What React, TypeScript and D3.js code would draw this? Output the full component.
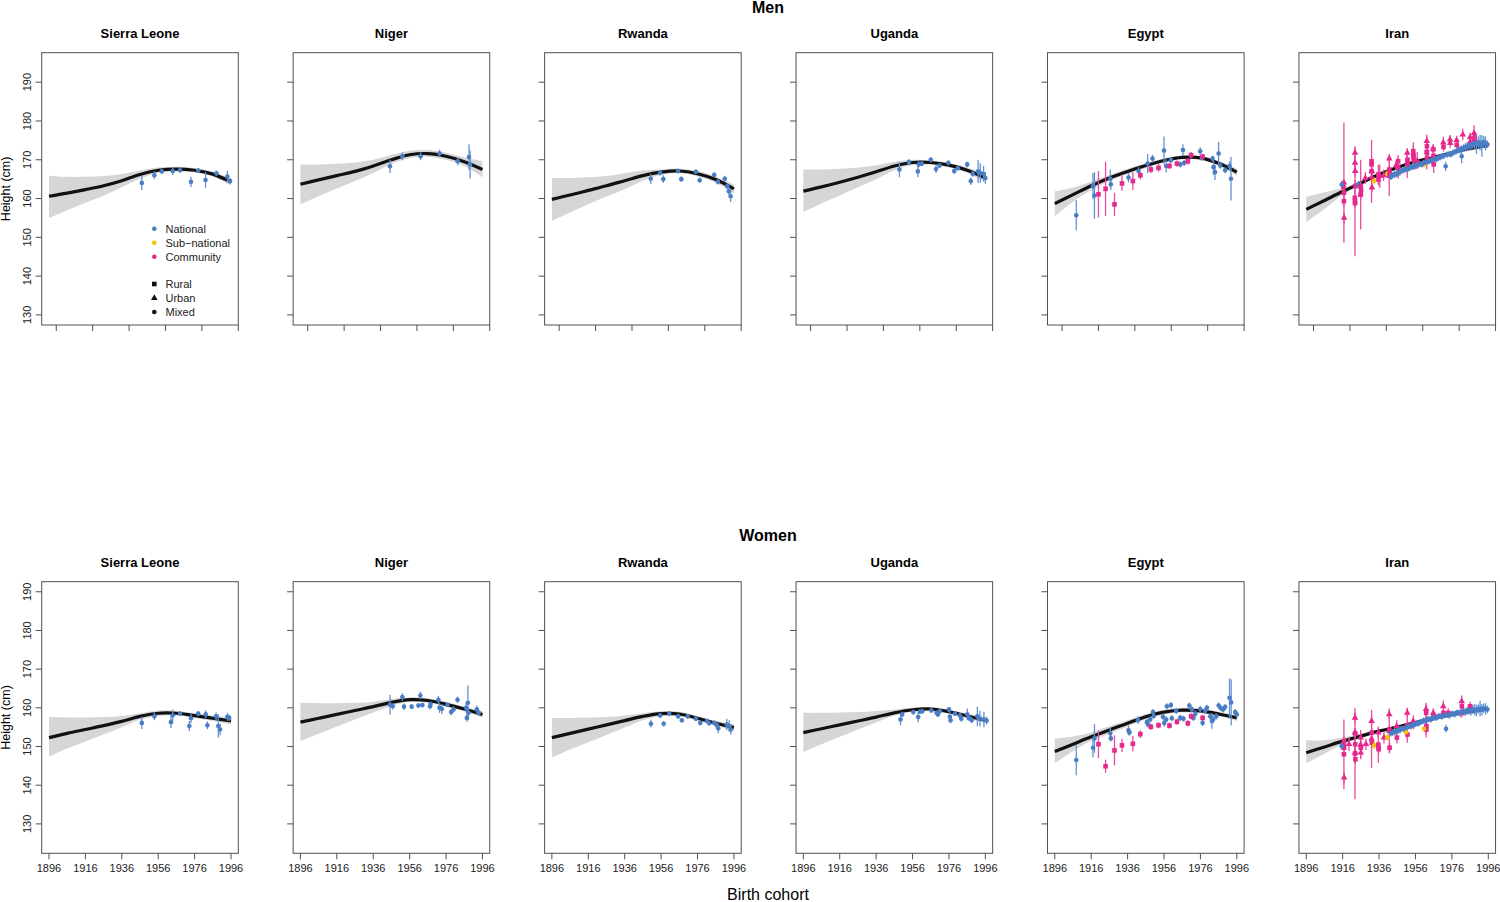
import React from "react";
import * as d3 from "d3";

type Pt = [number, number, number, string, string]; // year, height, half error, source N/S/C, type R/U/M

const countries = ["Sierra Leone", "Niger", "Rwanda", "Uganda", "Egypt", "Iran"];
const fitYears = [1896, 1906, 1916, 1926, 1936, 1946, 1956, 1966, 1976, 1986, 1996];
const yTicks = [130, 140, 150, 160, 170, 180, 190];
const xTicksTop = [1900, 1920, 1940, 1960, 1980, 2000];
const xTicksBottom = [1896, 1916, 1936, 1956, 1976, 1996];

// ---------- Men fits ----------
const slMenFit = [160.6, 161.4, 162.3, 163.3, 164.6, 166.2, 167.3, 167.6, 167.3, 166.3, 164.3];
const slMenLo = [155.0, 157.0, 158.9, 160.7, 162.9, 165.1, 166.6, 167.0, 166.7, 165.6, 163.4];
const slMenHi = [165.9, 165.6, 165.6, 165.8, 166.3, 167.2, 168.0, 168.2, 167.9, 167.0, 165.1];
const neMenFit = [163.7, 164.8, 165.9, 167.0, 168.4, 170.0, 171.3, 171.6, 170.9, 169.5, 167.5];
const neMenLo = [158.5, 160.6, 162.6, 164.5, 166.6, 168.9, 170.4, 170.8, 170.0, 168.4, 165.5];
const neMenHi = [168.8, 168.8, 169.0, 169.3, 170.0, 171.2, 172.3, 172.5, 171.8, 170.6, 169.7];
const rwMenFit = [159.8, 160.9, 162.1, 163.3, 164.6, 165.9, 166.8, 167.1, 166.4, 164.9, 162.5];
const rwMenLo = [154.2, 156.4, 158.5, 160.5, 162.4, 164.6, 166.1, 166.5, 165.7, 164.1, 161.3];
const rwMenHi = [165.3, 165.3, 165.5, 165.8, 166.5, 167.2, 167.5, 167.7, 167.1, 165.7, 163.7];
const ugMenFit = [161.9, 163.0, 164.2, 165.5, 166.9, 168.4, 169.3, 169.3, 168.6, 167.3, 165.3];
const ugMenLo = [156.5, 158.7, 160.8, 162.9, 165.0, 167.3, 168.6, 168.7, 168.0, 166.6, 164.3];
const ugMenHi = [167.5, 167.5, 167.7, 168.0, 168.6, 169.5, 170.0, 169.9, 169.2, 168.0, 166.3];
const egMenFit = [158.7, 161.0, 163.3, 165.3, 167.0, 168.5, 169.8, 170.6, 170.5, 169.1, 166.8];
const egMenLo = [155.5, 159.2, 162.2, 164.5, 166.3, 167.9, 169.3, 170.1, 170.0, 168.5, 165.9];
const egMenHi = [161.9, 162.8, 164.4, 166.1, 167.7, 169.1, 170.3, 171.1, 171.0, 169.7, 167.7];
const irMenFit = [157.2, 159.5, 161.8, 164.0, 166.2, 168.0, 169.5, 170.6, 171.8, 172.9, 173.7];
const irMenLo = [153.9, 157.3, 160.9, 163.4, 165.7, 167.6, 169.1, 170.2, 171.4, 172.5, 173.1];
const irMenHi = [160.4, 161.6, 162.7, 164.6, 166.7, 168.4, 169.9, 171.0, 172.2, 173.3, 174.3];

// ---------- Women fits ----------
const slWomenFit = [152.3, 153.4, 154.4, 155.4, 156.5, 157.8, 158.6, 158.6, 158.0, 157.3, 156.6];
const slWomenLo = [147.4, 149.5, 151.3, 153.1, 155.0, 156.9, 157.9, 158.0, 157.4, 156.6, 155.7];
const slWomenHi = [157.6, 157.5, 157.5, 157.6, 157.9, 158.6, 159.3, 159.2, 158.6, 158.0, 157.5];
const neWomenFit = [156.3, 157.3, 158.3, 159.3, 160.3, 161.4, 162.1, 161.9, 160.9, 159.7, 158.3];
const neWomenLo = [151.4, 153.3, 155.2, 157.0, 158.8, 160.5, 161.5, 161.3, 160.3, 159.1, 157.5];
const neWomenHi = [161.3, 161.2, 161.2, 161.3, 161.6, 162.3, 162.7, 162.5, 161.5, 160.3, 159.1];
const rwWomenFit = [152.3, 153.4, 154.5, 155.6, 156.7, 157.8, 158.5, 158.4, 157.3, 156.0, 154.9];
const rwWomenLo = [147.1, 149.2, 151.1, 153.0, 154.9, 156.8, 157.9, 157.8, 156.7, 155.4, 154.0];
const rwWomenHi = [157.4, 157.4, 157.5, 157.6, 158.0, 158.6, 159.1, 159.0, 157.9, 156.6, 155.8];
const ugWomenFit = [153.6, 154.6, 155.6, 156.6, 157.6, 158.7, 159.5, 159.7, 159.0, 157.9, 156.8];
const ugWomenLo = [148.6, 150.6, 152.5, 154.4, 156.2, 158.0, 159.0, 159.2, 158.5, 157.3, 156.0];
const ugWomenHi = [158.7, 158.7, 158.8, 158.9, 159.2, 159.6, 160.0, 160.2, 159.5, 158.5, 157.6];
const egWomenFit = [148.7, 150.6, 152.5, 154.3, 156.0, 157.7, 158.9, 159.4, 159.2, 158.4, 157.4];
const egWomenLo = [145.7, 148.8, 151.4, 153.3, 155.2, 157.0, 158.3, 158.8, 158.6, 157.8, 156.6];
const egWomenHi = [152.0, 152.6, 153.6, 155.3, 156.8, 158.4, 159.5, 160.0, 159.8, 159.0, 158.2];
const irWomenFit = [148.4, 149.9, 151.4, 152.7, 154.0, 155.0, 156.2, 157.3, 158.2, 159.0, 159.7];
const irWomenLo = [145.6, 148.1, 150.5, 152.1, 153.5, 154.6, 155.8, 156.9, 157.8, 158.6, 159.2];
const irWomenHi = [151.6, 151.6, 152.3, 153.3, 154.5, 155.4, 156.6, 157.7, 158.6, 159.4, 160.2];

// ---------- Men data ----------
const slMen: Pt[] = [
  [1947, 164.0, 1.8, "N", "M"], [1953.9, 166.0, 1.0, "N", "M"], [1958, 167.0, 0.6, "N", "M"],
  [1964, 167.1, 1.0, "N", "M"], [1968, 167.3, 0.6, "N", "M"], [1974, 164.3, 1.3, "N", "M"],
  [1978, 167.2, 0.6, "N", "M"], [1982, 164.8, 2.0, "N", "M"], [1988, 166.5, 0.7, "N", "M"],
  [1994, 165.7, 1.5, "N", "M"], [1995.5, 164.5, 0.8, "N", "M"],
];
const neMen: Pt[] = [
  [1945.2, 168.3, 1.7, "N", "M"], [1952, 170.9, 1.0, "N", "M"], [1962, 170.9, 1.0, "N", "M"],
  [1972.4, 171.6, 1.0, "N", "M"], [1982.4, 169.6, 1.0, "N", "M"], [1988.6, 170.7, 3.3, "N", "M"],
  [1989.2, 168.8, 3.6, "N", "M"],
];
const rwMen: Pt[] = [
  [1950.3, 165.1, 1.3, "N", "M"], [1955.4, 166.6, 0.6, "N", "M"], [1957.2, 165.0, 1.0, "N", "M"],
  [1965.3, 167.1, 0.6, "N", "M"], [1967.1, 165.0, 0.7, "N", "M"], [1975.1, 166.9, 0.6, "N", "M"],
  [1977.2, 164.7, 0.7, "N", "M"], [1985.2, 166.1, 0.6, "N", "M"], [1987.2, 164.3, 0.7, "N", "M"],
  [1991, 165.1, 0.8, "N", "M"], [1992.4, 163.2, 0.8, "N", "M"], [1993.2, 161.9, 1.0, "N", "M"],
  [1994.2, 160.6, 1.5, "N", "M"],
];
const ugMen: Pt[] = [
  [1948.8, 167.5, 2.0, "N", "M"], [1954, 169.4, 0.8, "N", "M"], [1958.9, 167.0, 1.5, "N", "M"],
  [1959.4, 168.8, 0.8, "N", "M"], [1961, 169.0, 0.6, "N", "M"], [1966, 170.0, 0.7, "N", "M"],
  [1968.9, 167.6, 1.0, "N", "M"], [1970.8, 168.5, 0.6, "N", "M"], [1975.7, 169.2, 0.6, "N", "M"],
  [1978.9, 167.1, 0.8, "N", "M"], [1980.9, 167.8, 0.6, "N", "M"], [1986, 168.8, 0.7, "N", "M"],
  [1988, 164.5, 1.0, "N", "M"], [1989.1, 166.4, 0.8, "N", "M"], [1992, 167.0, 3.0, "N", "M"],
  [1993.2, 166.6, 2.5, "N", "M"], [1995, 166.4, 2.0, "N", "M"], [1996, 165.3, 1.5, "N", "M"],
];
const egMen: Pt[] = [
  [1907.8, 155.7, 3.9, "N", "M"], [1917, 163.2, 3.4, "N", "M"], [1917.8, 160.8, 6.0, "N", "M"],
  [1926.5, 165.1, 2.4, "N", "M"], [1926.8, 163.7, 1.5, "N", "M"], [1936.5, 165.4, 1.2, "N", "M"],
  [1942, 167.1, 1.0, "N", "M"], [1947, 169.0, 2.5, "N", "M"], [1949.7, 170.3, 1.0, "N", "M"],
  [1956, 172.4, 3.6, "N", "M"], [1957.2, 168.4, 1.7, "N", "M"], [1959.8, 169.9, 0.8, "N", "M"],
  [1965, 168.8, 0.8, "N", "M"], [1966.4, 172.5, 1.5, "N", "M"], [1967.1, 169.2, 0.8, "N", "M"],
  [1975.9, 172.2, 1.0, "N", "M"], [1976.8, 170.5, 0.8, "N", "M"], [1982.7, 170.3, 0.8, "N", "M"],
  [1983.2, 168.1, 2.0, "N", "M"], [1984, 166.8, 2.0, "N", "M"], [1986, 171.6, 3.0, "N", "M"],
  [1986.9, 168.5, 0.8, "N", "M"], [1989.6, 167.3, 0.8, "N", "M"], [1992, 168.4, 1.2, "N", "M"],
  [1992.8, 165.1, 5.6, "N", "M"],
  [1920, 161.1, 6.0, "C", "R"], [1923.9, 162.5, 7.0, "C", "R"], [1928.8, 158.5, 3.0, "C", "R"],
  [1932.9, 163.9, 1.9, "C", "R"], [1938.9, 164.5, 2.3, "C", "R"], [1943, 166.0, 1.0, "C", "R"],
  [1948.8, 167.5, 1.0, "C", "R"], [1953, 167.9, 1.0, "C", "R"], [1959, 168.4, 0.8, "C", "R"],
  [1963.1, 169.0, 0.8, "C", "R"], [1969.1, 169.6, 0.8, "C", "R"], [1970.9, 171.2, 0.8, "C", "R"],
  [1977.2, 170.8, 0.8, "C", "R"],
];
const irMen: Pt[] = [
  // community, early cohorts
  [1916.7, 164.1, 15.5, "C", "U"], [1916.7, 161.5, 1.5, "C", "R"], [1916.7, 159.3, 1.5, "C", "R"],
  [1916.8, 155.0, 1.5, "C", "U"], [1916.5, 163.0, 1.2, "C", "R"], [1915.5, 163.6, 1.0, "N", "M"],
  [1922.8, 159.3, 14.2, "C", "R"], [1922.8, 171.8, 1.5, "C", "U"], [1922.8, 169.2, 1.5, "C", "U"],
  [1922.9, 167.1, 1.5, "C", "U"], [1922.9, 163.2, 1.5, "C", "R"], [1922.7, 160.2, 1.5, "C", "R"],
  [1922.8, 158.8, 1.2, "C", "R"], [1924.6, 163.6, 1.0, "N", "M"],
  [1925.9, 161.0, 9.0, "C", "R"], [1925.9, 163.2, 1.2, "C", "R"], [1926.0, 161.0, 1.2, "C", "R"],
  [1926.1, 162.2, 1.2, "C", "R"], [1928.5, 165.3, 1.5, "C", "U"],
  [1931.9, 167.0, 8.1, "C", "R"], [1931.9, 169.6, 1.2, "C", "R"], [1931.9, 168.8, 1.2, "C", "R"],
  [1932.0, 167.1, 1.2, "C", "U"], [1932.0, 165.5, 1.2, "C", "U"], [1932.1, 162.8, 1.2, "C", "U"],
  [1933.4, 164.6, 0.8, "S", "M"],
  [1935.6, 166.2, 2.5, "C", "R"], [1935.7, 164.9, 1.5, "C", "R"], [1936.4, 165.8, 3.0, "C", "U"],
  [1938.5, 166.0, 1.5, "C", "U"], [1940.5, 166.5, 0.8, "S", "M"],
  [1941.6, 165.8, 5.2, "C", "U"], [1941.6, 170.3, 1.2, "C", "U"], [1941.7, 167.5, 1.2, "C", "R"],
  [1941.8, 166.6, 1.2, "C", "R"],
  [1946.5, 168.2, 3.0, "C", "R"], [1946.5, 169.6, 1.2, "C", "R"], [1946.8, 167.0, 1.2, "C", "R"],
  [1945.3, 168.5, 1.2, "C", "U"],
  [1951.5, 168.8, 3.5, "C", "R"], [1951.5, 171.8, 1.2, "C", "U"], [1951.6, 170.0, 1.2, "C", "R"],
  [1951.6, 169.0, 1.2, "C", "R"], [1950.4, 167.6, 0.8, "S", "M"],
  [1954.8, 171.0, 3.5, "C", "R"], [1954.8, 172.2, 1.2, "C", "R"], [1954.9, 171.2, 1.2, "C", "R"],
  [1955.0, 170.0, 1.2, "C", "R"], [1957.0, 169.8, 2.2, "C", "U"], [1960.7, 168.8, 0.8, "S", "M"],
  [1962.2, 172.0, 4.5, "C", "R"], [1962.2, 174.8, 1.2, "C", "U"], [1962.3, 173.5, 1.2, "C", "R"],
  [1962.3, 171.8, 1.2, "C", "R"], [1962.4, 170.5, 1.2, "C", "R"],
  [1965.8, 172.7, 1.2, "C", "R"], [1965.9, 171.0, 1.2, "C", "R"], [1965.7, 172.8, 1.2, "C", "U"],
  [1966.0, 168.8, 2.2, "C", "R"],
  [1971.3, 174.4, 1.5, "C", "U"], [1971.4, 173.3, 1.2, "C", "R"],
  [1975.0, 175.2, 1.2, "C", "U"], [1975.1, 174.3, 1.2, "C", "U"],
  [1978.6, 175.0, 1.2, "C", "U"], [1978.7, 173.8, 1.2, "C", "R"], [1982.0, 176.5, 1.5, "C", "U"],
  [1986.0, 175.8, 1.2, "C", "U"], [1986.1, 174.6, 1.2, "C", "U"],
  [1988.2, 176.9, 2.0, "C", "U"], [1988.3, 176.0, 1.2, "C", "U"], [1988.4, 174.8, 1.2, "C", "R"],
  // national
  [1942.5, 165.6, 0.8, "N", "M"], [1943.5, 166.0, 0.8, "N", "M"], [1944.5, 166.3, 1.0, "N", "M"],
  [1945.5, 166.2, 0.8, "N", "M"], [1946.5, 166.8, 0.8, "N", "M"], [1947.5, 166.9, 1.0, "N", "M"],
  [1948.5, 167.2, 0.8, "N", "M"], [1949.5, 167.3, 0.8, "N", "M"], [1950.5, 167.6, 0.8, "N", "M"],
  [1951.5, 167.5, 0.8, "N", "M"], [1952.5, 167.9, 0.8, "N", "M"], [1953.5, 168.0, 0.8, "N", "M"],
  [1954.5, 168.3, 0.8, "N", "M"], [1955.5, 168.2, 0.8, "N", "M"], [1956.5, 168.6, 0.8, "N", "M"],
  [1957.5, 168.7, 0.8, "N", "M"], [1958.5, 168.9, 0.8, "N", "M"], [1959.5, 168.8, 0.8, "N", "M"],
  [1960.5, 169.2, 0.8, "N", "M"], [1961.5, 169.3, 0.8, "N", "M"], [1962.5, 169.5, 0.8, "N", "M"],
  [1963.5, 169.6, 0.8, "N", "M"], [1964.5, 169.8, 0.8, "N", "M"], [1965.5, 170.0, 0.8, "N", "M"],
  [1966.5, 170.2, 0.8, "N", "M"], [1967.5, 170.1, 0.8, "N", "M"], [1968.5, 170.5, 0.8, "N", "M"],
  [1969.5, 170.6, 0.8, "N", "M"], [1970.5, 170.9, 0.8, "N", "M"], [1971.5, 171.0, 0.8, "N", "M"],
  [1972.6, 168.3, 1.2, "N", "M"], [1973.5, 171.3, 0.8, "N", "M"], [1974.5, 171.5, 0.8, "N", "M"],
  [1975.5, 171.4, 0.8, "N", "M"], [1976.5, 171.8, 0.8, "N", "M"], [1977.5, 172.0, 0.8, "N", "M"],
  [1978.5, 172.2, 0.8, "N", "M"], [1979.5, 172.5, 0.8, "N", "M"], [1980.5, 172.6, 1.0, "N", "M"],
  [1981.4, 170.9, 1.8, "N", "M"], [1981.5, 172.9, 0.8, "N", "M"], [1982.5, 173.0, 1.0, "N", "M"],
  [1983.5, 173.3, 1.0, "N", "M"], [1984.5, 173.4, 1.2, "N", "M"], [1985.5, 173.7, 1.0, "N", "M"],
  [1986.5, 173.8, 1.5, "N", "M"], [1987.5, 174.1, 1.2, "N", "M"], [1988.5, 174.3, 1.5, "N", "M"],
  [1989.5, 174.0, 2.5, "N", "M"], [1990.5, 174.5, 1.5, "N", "M"], [1991.5, 174.4, 2.0, "N", "M"],
  [1992.5, 173.6, 2.8, "N", "M"], [1993.5, 174.6, 1.5, "N", "M"], [1994.5, 174.2, 1.8, "N", "M"],
  [1995.5, 174.0, 1.0, "N", "M"],
];

// ---------- Women data ----------
const slWomen: Pt[] = [
  [1947, 156.1, 1.6, "N", "M"], [1953.9, 157.8, 1.0, "N", "M"], [1963, 156.3, 1.5, "N", "M"],
  [1964, 158.1, 1.5, "N", "M"], [1968, 158.5, 0.6, "N", "M"], [1973.1, 155.3, 1.3, "N", "M"],
  [1974, 157.3, 1.3, "N", "M"], [1978, 158.5, 0.6, "N", "M"], [1982.1, 158.3, 1.0, "N", "M"],
  [1983, 155.5, 1.0, "N", "M"], [1987.8, 157.8, 1.0, "N", "M"], [1989, 155.3, 3.0, "N", "M"],
  [1990, 154.4, 1.5, "N", "M"], [1994, 157.7, 1.0, "N", "M"], [1995, 157.4, 0.8, "N", "M"],
];
const neWomen: Pt[] = [
  [1945.2, 160.8, 2.6, "N", "M"], [1946.7, 160.4, 0.8, "N", "M"], [1952, 162.8, 1.0, "N", "M"],
  [1952.9, 160.3, 0.8, "N", "M"], [1957.1, 160.3, 0.6, "N", "M"], [1960.8, 160.6, 0.6, "N", "M"],
  [1961.9, 163.2, 1.0, "N", "M"], [1963, 160.7, 0.6, "N", "M"], [1967.2, 160.4, 0.8, "N", "M"],
  [1967.5, 161.0, 0.6, "N", "M"], [1971.8, 162.1, 1.0, "N", "M"], [1972.4, 160.0, 1.3, "N", "M"],
  [1973.7, 159.7, 1.3, "N", "M"], [1976.8, 160.8, 0.6, "N", "M"], [1978.8, 158.9, 0.8, "N", "M"],
  [1980.1, 159.6, 0.8, "N", "M"], [1982.3, 162.1, 0.8, "N", "M"], [1987, 160.0, 1.3, "N", "M"],
  [1988, 161.3, 4.5, "N", "M"], [1988.3, 158.7, 1.5, "N", "M"], [1987.4, 157.4, 1.0, "N", "M"],
  [1992.9, 159.6, 1.0, "N", "M"], [1994, 158.7, 0.8, "N", "M"],
];
const rwWomen: Pt[] = [
  [1950.4, 155.9, 1.0, "N", "M"], [1955.5, 158.0, 0.6, "N", "M"], [1957.4, 155.9, 0.7, "N", "M"],
  [1960.5, 158.5, 0.6, "N", "M"], [1965.4, 157.8, 0.7, "N", "M"], [1967.4, 156.8, 0.6, "N", "M"],
  [1970.6, 157.8, 0.6, "N", "M"], [1975.1, 157.2, 0.7, "N", "M"], [1977.5, 156.1, 0.6, "N", "M"],
  [1981.2, 156.6, 0.6, "N", "M"], [1982.4, 156.0, 0.6, "N", "M"], [1985.2, 156.1, 0.6, "N", "M"],
  [1986.6, 155.5, 0.7, "N", "M"], [1987.4, 154.7, 1.3, "N", "M"], [1992.1, 155.7, 1.5, "N", "M"],
  [1993.4, 155.3, 1.5, "N", "M"], [1994.3, 154.4, 1.3, "N", "M"],
];
const ugWomen: Pt[] = [
  [1949.4, 157.0, 1.5, "N", "M"], [1950.3, 158.3, 0.7, "N", "M"], [1956.4, 158.9, 0.6, "N", "M"],
  [1959.1, 157.6, 1.3, "N", "M"], [1960, 159.0, 0.6, "N", "M"], [1961.3, 159.1, 0.6, "N", "M"],
  [1966.3, 159.3, 0.6, "N", "M"], [1969.2, 158.7, 0.6, "N", "M"], [1969.9, 158.3, 0.6, "N", "M"],
  [1971, 159.1, 0.6, "N", "M"], [1976, 159.6, 0.6, "N", "M"], [1976.5, 157.7, 1.5, "N", "M"],
  [1976.9, 156.8, 0.8, "N", "M"], [1979.3, 158.5, 0.6, "N", "M"], [1982, 158.0, 0.6, "N", "M"],
  [1982.8, 157.2, 0.8, "N", "M"], [1986.1, 158.3, 1.5, "N", "M"], [1987, 157.4, 0.8, "N", "M"],
  [1988.5, 156.8, 0.8, "N", "M"], [1991.6, 157.8, 2.5, "N", "M"], [1993, 157.2, 2.0, "N", "M"],
  [1995.2, 157.0, 2.0, "N", "M"], [1996.7, 156.7, 1.0, "N", "M"],
];
const egWomen: Pt[] = [
  [1907.8, 146.5, 3.9, "N", "M"], [1917, 149.7, 2.5, "N", "M"], [1917.8, 152.1, 3.7, "N", "M"],
  [1926.5, 153.4, 1.5, "N", "M"], [1926.8, 152.1, 0.8, "N", "M"], [1936.5, 154.2, 1.2, "N", "M"],
  [1937, 153.6, 0.8, "N", "M"], [1941.7, 156.8, 1.0, "N", "M"], [1946.6, 156.3, 0.8, "N", "M"],
  [1947.2, 155.7, 0.8, "N", "M"], [1948.4, 157.0, 0.8, "N", "M"], [1949.9, 158.9, 0.8, "N", "M"],
  [1950.3, 157.9, 0.8, "N", "M"], [1955.4, 157.7, 0.8, "N", "M"], [1956.1, 156.1, 1.0, "N", "M"],
  [1957.6, 160.4, 0.8, "N", "M"], [1959.8, 160.7, 0.8, "N", "M"], [1957.2, 157.0, 0.8, "N", "M"],
  [1960.3, 157.3, 0.8, "N", "M"], [1962.7, 159.2, 0.8, "N", "M"], [1964.9, 157.4, 0.8, "N", "M"],
  [1966.7, 157.2, 0.8, "N", "M"], [1969.9, 160.6, 0.8, "N", "M"], [1971.3, 159.6, 0.8, "N", "M"],
  [1972.2, 157.4, 0.8, "N", "M"], [1973.2, 158.5, 0.8, "N", "M"], [1975.9, 159.7, 0.8, "N", "M"],
  [1977.2, 156.1, 0.8, "N", "M"], [1978.6, 159.2, 0.8, "N", "M"], [1979.6, 160.0, 0.8, "N", "M"],
  [1981.4, 157.8, 0.8, "N", "M"], [1982.3, 156.6, 2.0, "N", "M"], [1983.0, 157.0, 1.0, "N", "M"],
  [1984.7, 157.8, 0.8, "N", "M"], [1986, 160.6, 0.8, "N", "M"], [1987, 160.0, 0.8, "N", "M"],
  [1988.4, 159.6, 0.8, "N", "M"], [1989.6, 160.2, 0.8, "N", "M"], [1992, 162.6, 5.0, "N", "M"],
  [1992.9, 161.4, 6.0, "N", "M"], [1995.1, 158.9, 0.8, "N", "M"], [1996, 158.3, 0.8, "N", "M"],
  [1920, 150.6, 3.6, "C", "R"], [1923.9, 144.9, 1.7, "C", "R"], [1928.8, 149.0, 3.9, "C", "R"],
  [1932.9, 150.3, 1.7, "C", "R"], [1938.9, 150.7, 2.0, "C", "R"], [1943, 153.2, 1.0, "C", "R"],
  [1948.8, 155.1, 0.8, "C", "R"], [1953, 155.5, 0.8, "C", "R"], [1959, 155.4, 0.8, "C", "R"],
  [1963.1, 156.4, 0.8, "C", "R"], [1969.1, 156.0, 0.8, "C", "R"], [1970.9, 157.8, 0.8, "C", "R"],
  [1977.2, 157.4, 0.8, "C", "R"],
];
const irWomen: Pt[] = [
  [1916.7, 148.0, 9.0, "C", "R"], [1916.7, 151.4, 1.2, "C", "R"], [1916.8, 149.7, 1.2, "C", "R"],
  [1916.8, 142.0, 1.5, "C", "U"], [1916.6, 150.6, 1.2, "C", "U"], [1915.5, 150.1, 1.0, "N", "M"],
  [1919.5, 150.6, 1.8, "C", "U"],
  [1922.8, 148.2, 11.8, "C", "R"], [1922.8, 157.4, 1.5, "C", "U"], [1922.8, 153.6, 1.2, "C", "U"],
  [1922.9, 153.4, 1.2, "C", "R"], [1922.9, 150.6, 1.2, "C", "R"], [1922.9, 148.4, 1.2, "C", "U"],
  [1923.0, 146.7, 1.2, "C", "R"],
  [1925.9, 150.5, 3.8, "C", "U"], [1925.9, 152.3, 1.2, "C", "U"], [1926.0, 149.7, 1.2, "C", "R"],
  [1926.0, 148.4, 1.2, "C", "U"], [1928.8, 150.6, 1.5, "C", "U"],
  [1931.9, 152.0, 7.5, "C", "U"], [1931.9, 156.6, 1.2, "C", "U"], [1932.0, 153.6, 1.2, "C", "R"],
  [1932.0, 151.0, 1.2, "C", "R"], [1933.4, 150.3, 0.8, "S", "M"],
  [1935.6, 150.5, 4.7, "C", "R"], [1935.6, 153.6, 1.2, "C", "U"], [1935.7, 149.7, 1.2, "C", "R"],
  [1935.8, 149.3, 1.2, "C", "R"], [1938.7, 152.3, 1.5, "C", "U"], [1940.5, 152.4, 0.8, "S", "M"],
  [1941.6, 154.0, 5.8, "C", "U"], [1941.6, 158.3, 1.2, "C", "U"], [1941.7, 154.4, 1.2, "C", "R"],
  [1941.8, 149.7, 1.2, "C", "R"], [1945.7, 155.3, 1.5, "C", "U"], [1945.8, 152.3, 1.5, "C", "R"],
  [1951.5, 155.5, 4.5, "C", "R"], [1951.5, 158.7, 1.2, "C", "U"], [1951.6, 155.3, 1.2, "C", "R"],
  [1951.6, 153.1, 1.2, "C", "R"], [1950.8, 153.7, 0.8, "S", "M"],
  [1954.8, 156.6, 1.5, "C", "U"], [1954.9, 155.7, 1.2, "C", "R"],
  [1961.8, 156.8, 4.5, "C", "U"], [1961.8, 159.7, 1.2, "C", "U"], [1961.9, 158.7, 1.2, "C", "R"],
  [1962.0, 155.3, 1.2, "C", "R"], [1962.0, 154.4, 1.2, "C", "R"], [1960.7, 154.6, 0.8, "S", "M"],
  [1965.8, 158.7, 1.2, "C", "U"], [1965.9, 157.8, 1.2, "C", "R"],
  [1971.3, 160.4, 1.5, "C", "U"], [1971.4, 158.7, 1.2, "C", "R"], [1974.0, 158.7, 1.2, "C", "R"],
  [1981.4, 161.7, 1.5, "C", "U"], [1981.5, 160.4, 1.2, "C", "R"], [1981.5, 158.7, 1.2, "C", "R"],
  [1986.0, 160.4, 1.2, "C", "R"], [1986.1, 159.6, 1.2, "C", "R"],
  // national
  [1942.5, 153.4, 0.8, "N", "M"], [1943.5, 153.6, 0.8, "N", "M"], [1944.5, 153.9, 1.0, "N", "M"],
  [1945.5, 153.8, 0.8, "N", "M"], [1946.5, 154.2, 0.8, "N", "M"], [1947.5, 154.3, 1.0, "N", "M"],
  [1948.5, 154.6, 0.8, "N", "M"], [1949.5, 154.5, 0.8, "N", "M"], [1950.5, 154.9, 0.8, "N", "M"],
  [1951.5, 155.0, 0.8, "N", "M"], [1952.5, 155.3, 0.8, "N", "M"], [1953.5, 155.2, 0.8, "N", "M"],
  [1954.5, 155.6, 0.8, "N", "M"], [1955.5, 155.7, 0.8, "N", "M"], [1956.5, 156.0, 0.8, "N", "M"],
  [1957.5, 155.9, 0.8, "N", "M"], [1958.5, 156.3, 0.8, "N", "M"], [1959.5, 156.4, 0.8, "N", "M"],
  [1960.5, 156.7, 0.8, "N", "M"], [1961.5, 156.6, 0.8, "N", "M"], [1962.5, 157.0, 0.8, "N", "M"],
  [1963.5, 157.1, 0.8, "N", "M"], [1964.5, 157.0, 0.8, "N", "M"], [1965.5, 157.4, 0.8, "N", "M"],
  [1966.5, 157.5, 0.8, "N", "M"], [1967.5, 157.4, 0.8, "N", "M"], [1968.5, 157.8, 0.8, "N", "M"],
  [1969.5, 157.9, 0.8, "N", "M"], [1970.5, 157.7, 0.8, "N", "M"], [1971.5, 158.1, 0.8, "N", "M"],
  [1972.8, 154.6, 1.0, "N", "M"], [1973.5, 158.2, 0.8, "N", "M"], [1974.5, 158.0, 0.8, "N", "M"],
  [1975.5, 158.4, 0.8, "N", "M"], [1976.5, 158.5, 0.8, "N", "M"], [1977.5, 158.3, 0.8, "N", "M"],
  [1978.5, 158.7, 0.8, "N", "M"], [1979.5, 158.8, 0.8, "N", "M"], [1980.5, 158.6, 1.0, "N", "M"],
  [1981.5, 159.0, 0.8, "N", "M"], [1982.5, 159.1, 1.0, "N", "M"], [1983.5, 158.9, 1.0, "N", "M"],
  [1984.5, 159.3, 1.0, "N", "M"], [1985.5, 159.4, 1.2, "N", "M"], [1986.5, 159.2, 1.2, "N", "M"],
  [1987.5, 159.6, 1.2, "N", "M"], [1988.5, 159.5, 1.5, "N", "M"], [1989.5, 159.3, 1.5, "N", "M"],
  [1990.5, 159.7, 1.2, "N", "M"], [1991.5, 159.8, 2.0, "N", "M"], [1992.5, 159.5, 1.5, "N", "M"],
  [1993.5, 159.9, 1.2, "N", "M"], [1994.5, 159.7, 1.5, "N", "M"], [1995.5, 159.6, 1.0, "N", "M"],
];

const menPanels = [
  { pts: slMen, fit: slMenFit, lo: slMenLo, hi: slMenHi },
  { pts: neMen, fit: neMenFit, lo: neMenLo, hi: neMenHi },
  { pts: rwMen, fit: rwMenFit, lo: rwMenLo, hi: rwMenHi },
  { pts: ugMen, fit: ugMenFit, lo: ugMenLo, hi: ugMenHi },
  { pts: egMen, fit: egMenFit, lo: egMenLo, hi: egMenHi },
  { pts: irMen, fit: irMenFit, lo: irMenLo, hi: irMenHi },
];
const womenPanels = [
  { pts: slWomen, fit: slWomenFit, lo: slWomenLo, hi: slWomenHi },
  { pts: neWomen, fit: neWomenFit, lo: neWomenLo, hi: neWomenHi },
  { pts: rwWomen, fit: rwWomenFit, lo: rwWomenLo, hi: rwWomenHi },
  { pts: ugWomen, fit: ugWomenFit, lo: ugWomenLo, hi: ugWomenHi },
  { pts: egWomen, fit: egWomenFit, lo: egWomenLo, hi: egWomenHi },
  { pts: irWomen, fit: irWomenFit, lo: irWomenLo, hi: irWomenHi },
];

const srcColor: Record<string, string> = { N: "#4A7DC4", S: "#F5C400", C: "#E6288C" };
const errColor: Record<string, string> = { N: "#6393D3", S: "#F5C400", C: "#EA4B9E" };
const FONT = "'Liberation Sans', Arial, Helvetica, sans-serif";
const FRAME = "#505050";

const PANEL_W = 196.6;
const colLeft = (i: number) => 41.7 + i * 251.45;

const rows = [
  { label: "Men", panels: menPanels, top: 52.7, h: 272.3, yDom: [127.4, 197.6], titleY: 13, ptitleY: 38, bottom: false },
  { label: "Women", panels: womenPanels, top: 581.7, h: 271.6, yDom: [122.4, 192.6], titleY: 541, ptitleY: 567, bottom: true },
];

function Marker({ x, y, type, color }: { x: number; y: number; type: string; color: string }) {
  if (type === "R") return <rect x={x - 2.3} y={y - 2.3} width={4.6} height={4.6} fill={color} />;
  if (type === "U") {
    const p = d3.symbol(d3.symbolTriangle, 19)();
    return <path d={p || ""} transform={`translate(${x},${y})`} fill={color} />;
  }
  return <circle cx={x} cy={y} r={2.3} fill={color} />;
}

export default function App() {
  return (
    <svg width={1500} height={902} style={{ position: "absolute", left: 0, top: 0, background: "#fff" }} fontFamily={FONT}>
      <rect x={0} y={0} width={1500} height={902} fill="#fff" />
      {rows.map((row, ri) => {
        const y = d3.scaleLinear().domain(row.yDom).range([row.top + row.h, row.top]);
        return (
          <g key={ri}>
            <text x={768} y={row.titleY} textAnchor="middle" fontWeight="bold" fontSize={16}>{row.label}</text>
            <text transform={`translate(10,${row.top + row.h / 2}) rotate(-90)`} textAnchor="middle" fontSize={12.5}>Height (cm)</text>
            {row.panels.map((p, i) => {
              const left = colLeft(i);
              const x = d3.scaleLinear().domain([1892, 2000]).range([left, left + PANEL_W]);
              const idx = d3.range(fitYears.length);
              const area = d3.area<number>().x((k) => x(fitYears[k])).y0((k) => y(p.lo[k])).y1((k) => y(p.hi[k])).curve(d3.curveCatmullRom.alpha(0.5));
              const line = d3.line<number>().x((k) => x(fitYears[k])).y((k) => y(p.fit[k])).curve(d3.curveCatmullRom.alpha(0.5));
              const xt = row.bottom ? xTicksBottom : xTicksTop;
              const bottomY = row.top + row.h;
              return (
                <g key={i}>
                  <text x={left + PANEL_W / 2} y={row.ptitleY} textAnchor="middle" fontWeight="bold" fontSize={13}>{countries[i]}</text>
                  <path d={area(idx) || ""} fill="#D6D6D6" />
                  <path d={line(idx) || ""} fill="none" stroke="#111" strokeWidth={3.2} />
                  {p.pts.map((d, k) => (
                    <line key={"e" + k} x1={x(d[0])} x2={x(d[0])} y1={y(d[1] - d[2])} y2={y(d[1] + d[2])} stroke={errColor[d[3]]} strokeWidth={1.3} />
                  ))}
                  {p.pts.map((d, k) => (
                    <Marker key={"m" + k} x={x(d[0])} y={y(d[1])} type={d[4]} color={srcColor[d[3]]} />
                  ))}
                  <rect x={left} y={row.top} width={PANEL_W} height={row.h} fill="none" stroke={FRAME} strokeWidth={1} />
                  {yTicks.map((t) => (
                    <line key={"yt" + t} x1={left - 6} x2={left} y1={y(t)} y2={y(t)} stroke={FRAME} />
                  ))}
                  {i === 0 && yTicks.map((t) => (
                    <text key={"yl" + t} transform={`translate(${left - 11},${y(t)}) rotate(-90)`} textAnchor="middle" fontSize={11} fill="#222">{t}</text>
                  ))}
                  {xt.map((t) => (
                    <line key={"xt" + t} x1={x(t)} x2={x(t)} y1={bottomY} y2={bottomY + 6} stroke={FRAME} />
                  ))}
                  {row.bottom && xt.map((t) => (
                    <text key={"xl" + t} x={x(t)} y={bottomY + 19} textAnchor="middle" fontSize={11} fill="#222">{t}</text>
                  ))}
                </g>
              );
            })}
          </g>
        );
      })}
      {/* legend in first men panel */}
      <g fontSize={11} fill="#222">
        {[
          ["National", "N"],
          ["Sub\u2212national", "S"],
          ["Community", "C"],
        ].map(([lab, s], k) => (
          <g key={lab}>
            <circle cx={154.3} cy={228.7 + k * 14} r={2.3} fill={srcColor[s]} />
            <text x={165.5} y={232.5 + k * 14}>{lab}</text>
          </g>
        ))}
        {[
          ["Rural", "R"],
          ["Urban", "U"],
          ["Mixed", "M"],
        ].map(([lab, s], k) => (
          <g key={lab}>
            <Marker x={154.3} y={284 + k * 14} type={s} color="#111" />
            <text x={165.5} y={287.8 + k * 14}>{lab}</text>
          </g>
        ))}
      </g>
      <text x={768} y={900} textAnchor="middle" fontSize={16}>Birth cohort</text>
    </svg>
  );
}
